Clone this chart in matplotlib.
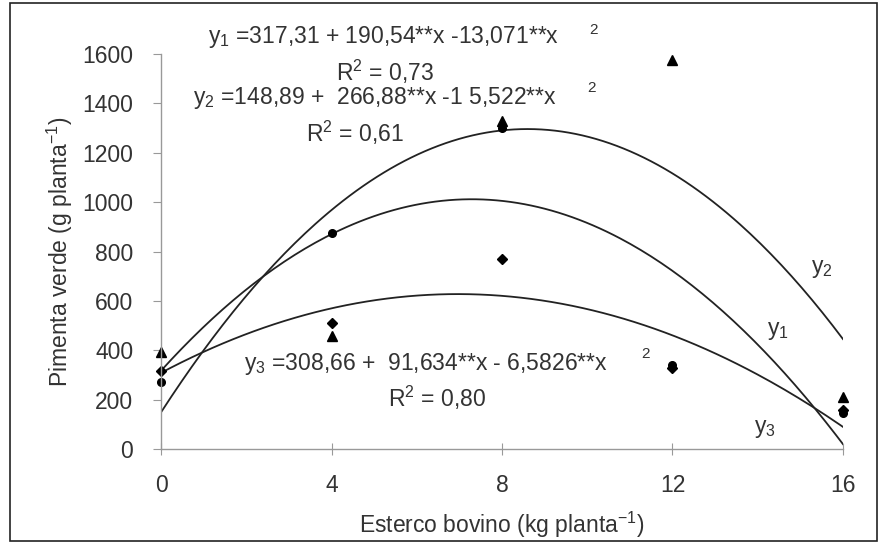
import numpy as np
import matplotlib
matplotlib.use("Agg")
import matplotlib.pyplot as plt
from matplotlib.patches import Rectangle

plt.rcParams['font.family'] = ['Liberation Sans', 'DejaVu Sans']
plt.rcParams['mathtext.fontset'] = 'custom'
plt.rcParams['mathtext.rm'] = 'Liberation Sans'
plt.rcParams['mathtext.it'] = 'Liberation Sans'
plt.rcParams['mathtext.default'] = 'regular'

# Observed doses (kg planta-1)
doses = [0, 4, 8, 12, 16]

triangles = [395, 458, 1330, 1575, 210]
diamonds = [315, 510, 770, 330, 160]
circles = [270, 875, 1300, 340, 145]

# Fitted quadratic coefficients (a + b*x + c*x^2) as printed on the chart
coef_y1 = [317.31, 190.54, -13.071]
coef_y2 = [148.89, 266.88, -15.522]
coef_y3 = [308.66, 91.634, -6.5826]

text_color = '#333333'
fs = 16.5

fig = plt.figure(figsize=(8.85, 5.54), dpi=100)
ax = fig.add_axes([0.182, 0.1895, 0.7705, 0.713])

xs = np.linspace(0, 16, 200)
for c in (coef_y1, coef_y2, coef_y3):
    ax.plot(xs, c[0] + c[1] * xs + c[2] * xs ** 2, color='#222222', lw=1.3)

ax.plot(doses, triangles, '^', color='black', ms=6.5, ls='none', clip_on=False)
ax.plot(doses, diamonds, 'D', color='black', ms=5, ls='none', clip_on=False)
ax.plot(doses, circles, 'o', color='black', ms=5.5, ls='none', clip_on=False)

ax.set_xlim(0, 16)
ax.set_ylim(0, 1600)
ax.set_xticks([0, 4, 8, 12, 16])
ax.set_yticks(range(0, 1601, 200))
for s in ('top', 'right'):
    ax.spines[s].set_visible(False)
for s in ('left', 'bottom'):
    ax.spines[s].set_color('#999999')
    ax.spines[s].set_linewidth(1.0)
ax.tick_params(axis='both', colors='#999999', labelcolor=text_color, labelsize=fs)
ax.tick_params(axis='x', direction='inout', length=8, pad=14)
ax.tick_params(axis='y', direction='out', length=6, pad=14)

ax.set_xlabel('Esterco bovino (kg planta$^{-1}$)', fontsize=fs, color=text_color, labelpad=9)
ax.set_ylabel('Pimenta verde (g planta$^{-1}$)', fontsize=fs, color=text_color, labelpad=5)

# Equations (pixel positions converted to figure fractions)
def ftext(px, py, s, size=fs, **kw):
    fig.text(px / 885, 1 - py / 554, s, fontsize=size, color=text_color, **kw)

ftext(208, 37, '$y_1$ =317,31 + 190,54**x -13,071**x', ha='left', va='center')
ftext(594, 30, '2', size=11, ha='center', va='center')
ftext(385, 72, 'R$^2$ = 0,73', ha='center', va='center')
ftext(193, 98, '$y_2$ =148,89 +  266,88**x -1 5,522**x', ha='left', va='center')
ftext(592, 88, '2', size=11, ha='center', va='center')
ftext(355, 133, 'R$^2$ = 0,61', ha='center', va='center')
ftext(244, 364, '$y_3$ =308,66 +  91,634**x - 6,5826**x', ha='left', va='center')
ftext(645, 354, '2', size=11, ha='center', va='center')
ftext(437, 398, 'R$^2$ = 0,80', ha='center', va='center')

ftext(822, 268, '$y_2$', ha='center', va='center')
ftext(778, 331, '$y_1$', ha='center', va='center')
ftext(765, 428, '$y_3$', ha='center', va='center')

# Frame around the figure
fig.patches.append(Rectangle((10 / 885, 1 - 541 / 554), 867 / 885, 538 / 554,
                             transform=fig.transFigure, fill=False,
                             edgecolor='#222222', lw=1.2))

fig.savefig('out.png', dpi=100)
